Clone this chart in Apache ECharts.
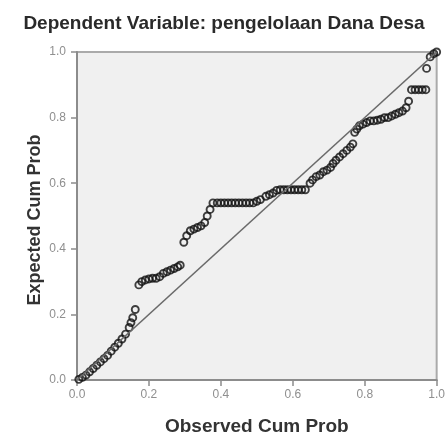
<!DOCTYPE html>
<html lang="en">
<head>
	<meta charset="UTF-8">
	<title>P-P Plot</title>
	<script src="https://cdn.jsdelivr.net/npm/echarts@6/dist/echarts.min.js"></script>
</head>
<body style="margin:0;background:#fff">
	<div id="app" style="width:448px;height:441px"></div>

	<script>
		// observed cum prob (x) / expected cum prob (y)
		var observed = [
			0.005, 0.015, 0.025, 0.035, 0.045, 0.055, 0.065, 0.075, 0.085, 0.095,
			0.105, 0.115, 0.125, 0.135, 0.145, 0.150, 0.155, 0.162,
			0.172, 0.180, 0.190, 0.200, 0.210, 0.220, 0.230, 0.240, 0.250, 0.260, 0.270, 0.280, 0.287,
			0.297, 0.305, 0.315, 0.325, 0.335, 0.345, 0.355, 0.362, 0.370, 0.378,
			0.390, 0.400, 0.410, 0.420, 0.430, 0.440, 0.450, 0.460, 0.470, 0.480, 0.490, 0.500, 0.510,
			0.525, 0.535, 0.545, 0.555, 0.565, 0.575, 0.585, 0.595, 0.605, 0.615, 0.625, 0.635,
			0.648, 0.655, 0.665, 0.675, 0.685, 0.695, 0.705, 0.712, 0.720, 0.730, 0.740, 0.750, 0.760, 0.767,
			0.772, 0.778, 0.785, 0.795, 0.805, 0.815, 0.825, 0.835, 0.845, 0.855, 0.865, 0.875, 0.885, 0.895, 0.905, 0.915, 0.922,
			0.930, 0.940, 0.950, 0.960, 0.970,
			0.972, 0.982, 0.992, 1.000
		];
		var expected = [
			0.002, 0.008, 0.015, 0.025, 0.035, 0.045, 0.055, 0.065, 0.075, 0.088,
			0.100, 0.112, 0.125, 0.140, 0.160, 0.175, 0.190, 0.215,
			0.290, 0.300, 0.305, 0.308, 0.310, 0.310, 0.315, 0.325, 0.330, 0.335, 0.340, 0.345, 0.350,
			0.420, 0.440, 0.455, 0.460, 0.465, 0.470, 0.480, 0.500, 0.520, 0.540,
			0.540, 0.540, 0.540, 0.540, 0.540, 0.540, 0.540, 0.540, 0.540, 0.540, 0.540, 0.545, 0.550,
			0.560, 0.565, 0.570, 0.578, 0.580, 0.580, 0.580, 0.580, 0.580, 0.580, 0.580, 0.580,
			0.600, 0.610, 0.620, 0.625, 0.635, 0.640, 0.648, 0.660, 0.670, 0.680, 0.690, 0.700, 0.710, 0.720,
			0.755, 0.765, 0.775, 0.780, 0.785, 0.790, 0.790, 0.792, 0.795, 0.800, 0.800, 0.805, 0.810, 0.815, 0.820, 0.830, 0.850,
			0.885, 0.885, 0.885, 0.885, 0.885,
			0.950, 0.985, 0.995, 1.000
		];
		var diagonal = [[0, 0], [1, 1]];
		var ticks = [0, 0.2, 0.4, 0.6, 0.8, 1.0];

		var points = observed.map(function (x, i) { return [x, expected[i]]; });

		var myChart = echarts.init(document.getElementById('app'));
		function axis(extra, margin) {
			return Object.assign({
				type: 'value',
				min: 0,
				max: 1,
				interval: 0.2,
				axisLine: { show: true, lineStyle: { color: '#8c8c8c', width: 2 } },
				axisTick: { show: true, inside: false, length: 6, lineStyle: { color: '#8c8c8c', width: 1.5 } },
				axisLabel: {
					fontFamily: 'Liberation Sans', fontSize: 12, color: '#8f8f8f', margin: margin,
					formatter: function (v) { return v.toFixed(1); }
				},
				splitLine: { show: false }
			}, extra);
		}
		var option = {
			animation: false,
			title: {
				text: 'Dependent Variable: pengelolaan Dana Desa',
				left: 'center',
				top: 9,
				textStyle: { fontFamily: 'Liberation Sans', fontWeight: 'bold', fontSize: 19, color: '#2a2a2a' }
			},
			grid: {
				left: 77, top: 52, right: 11, bottom: 56,
				show: true,
				backgroundColor: '#f0f0f0',
				borderColor: '#aaaaaa',
				borderWidth: 2
			},
			xAxis: axis({
				name: 'Observed Cum Prob',
				nameLocation: 'middle',
				nameGap: 37,
				nameTextStyle: { fontFamily: 'Liberation Sans', fontWeight: 'bold', fontSize: 19, color: '#333' }
			}, 9),
			yAxis: axis({}, 11),
			graphic: [
				{
					type: 'text',
					x: 26,
					y: 220,
					rotation: Math.PI / 2,
					style: {
						text: 'Expected Cum Prob',
						align: 'center',
						verticalAlign: 'top',
						fontFamily: 'Liberation Sans',
						fontWeight: 'bold',
						fontSize: 18,
						fill: '#333'
					}
				}
			],
			series: [
				{
					type: 'line',
					data: diagonal,
					symbol: 'none',
					lineStyle: { color: '#6a6a6a', width: 1.6 },
					silent: true
				},
				{
					type: 'scatter',
					data: points,
					symbol: 'circle',
					symbolSize: 7,
					itemStyle: { color: 'rgba(0,0,0,0)', borderColor: '#111', borderWidth: 1.9 }
				}
			]
		};
		myChart.setOption(option);
	</script>
</body>
</html>
